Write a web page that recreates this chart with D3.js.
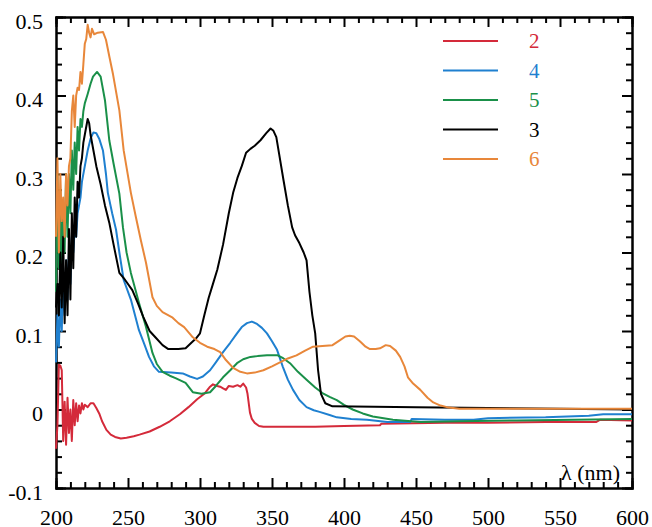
<!DOCTYPE html>
<meta charset="utf-8">
<title>Absorption spectra</title>
<style>
  body { margin: 0; background: #fff; }
  svg text { font-family: "Liberation Serif", "Times New Roman", Times, "DejaVu Serif", serif !important; }
  .axis path, .axis line { stroke: #000; stroke-width: 2; }
  .axis text { font-size: 22px; fill: #000; }
  path.spectrum { fill: none; stroke-width: 2; stroke-linejoin: round; }
  .legend text { font-size: 21px; }
</style>
<body>
<script src="https://cdn.jsdelivr.net/npm/d3@7"></script>
<script>
var serif = "Liberation Serif, Times New Roman, serif";

var xTicks = [200, 250, 300, 350, 400, 450, 500, 550, 600];
var yTicks = [-0.1, 0, 0.1, 0.2, 0.3, 0.4, 0.5];
var yTickLabels = ["-0.1", "0", "0.1", "0.2", "0.3", "0.4", "0.5"];

var legendNames = ["2", "4", "5", "3", "6"];
var legendColors = ["#d42a3a", "#1f80d0", "#1a9049", "#000000", "#e8873a"];

// [wavelength nm, absorbance]
var spectrum2 = [[200,-0.05],[201,-0.02],[202,0.057],[203,0.056],[204,0.05],[205,-0.04],[206,0.01],[207,-0.045],
  [208,0.015],[209,-0.03],[210,0.0],[211,-0.04],[212,0.012],[213,-0.02],[214,0.008],[215,-0.015],[216,0.005],
  [217,-0.005],[218,0.008],[219,0.0],[220,0.006],[222,0.003],[224,0.008],[226,0.008],[228,0.002],[230,-0.005],
  [232,-0.015],[235,-0.026],[238,-0.032],[241,-0.035],[245,-0.037],[249,-0.036],[254,-0.034],[258,-0.032],
  [265,-0.028],[272,-0.022],[279,-0.015],[286,-0.006],[292,0.003],[298,0.013],[303,0.02],[307,0.029],[309,0.032],
  [312,0.03],[314,0.029],[316,0.027],[318,0.025],[320,0.03],[323,0.029],[326,0.031],[328,0.029],[330,0.033],
  [332,0.028],[333,0.02],[334.7,-0.004],[336,-0.012],[338,-0.017],[341,-0.021],[344,-0.022],[380,-0.022],
  [400,-0.021],[425,-0.02],[426,-0.018],[470,-0.017],[500,-0.017],[540,-0.016],[575,-0.016],[578,-0.013],[600,-0.014]];

var spectrum4 = [[200,0.06],[201,0.12],[202,0.08],[203,0.14],[204,0.1],[205,0.17],[206,0.12],[207,0.19],[208,0.14],
  [209,0.2],[210,0.16],[211,0.22],[212,0.2],[213,0.23],[214,0.22],[215,0.25],[216,0.26],[217,0.27],[218,0.29],
  [220,0.31],[222,0.33],[224,0.345],[226,0.353],[228,0.352],[230,0.345],[232.6,0.33],[234.7,0.3],[236,0.276],
  [239,0.25],[241.7,0.229],[244,0.2],[247,0.165],[252,0.14],[257.6,0.101],[261,0.085],[264.6,0.067],[268,0.055],
  [271.5,0.048],[280,0.047],[288,0.046],[293,0.042],[298,0.039],[302,0.042],[307,0.05],[311,0.06],[316,0.073],
  [321,0.085],[325.7,0.097],[329,0.105],[332.6,0.11],[336,0.112],[339.6,0.109],[343,0.104],[346.5,0.097],
  [350,0.087],[353.5,0.076],[357.6,0.054],[361,0.038],[364.6,0.025],[369,0.012],[374,0.003],[379,-0.001],
  [383,-0.003],[390,-0.007],[395,-0.01],[405,-0.012],[416,-0.013],[430,-0.016],[446,-0.016],[447,-0.012],
  [470,-0.013],[490,-0.013],[500,-0.011],[540,-0.01],[570,-0.008],[580,-0.006],[600,-0.006]];

var spectrum5 = [[200,0.15],[201,0.3],[202,0.18],[203,0.28],[204,0.16],[205,0.26],[206,0.2],[207,0.3],[208,0.22],
  [209,0.3],[210,0.25],[211,0.33],[212,0.28],[213,0.34],[214,0.3],[215,0.36],[216,0.33],[217,0.37],[218,0.36],
  [219,0.38],[220,0.39],[222,0.402],[224,0.415],[225.7,0.424],[228.5,0.43],[231,0.424],[234,0.394],[237,0.343],
  [240,0.313],[244,0.275],[246.5,0.232],[249,0.2],[252,0.174],[257.6,0.136],[262.5,0.105],[267,0.072],[270,0.058],
  [274,0.048],[279,0.043],[283,0.04],[290,0.034],[295,0.022],[301,0.02],[307,0.022],[311,0.03],[316,0.041],
  [321,0.05],[325.7,0.059],[330,0.064],[335,0.067],[340,0.068],[346.5,0.069],[354,0.069],[358,0.065],
  [362.5,0.059],[368,0.048],[374,0.038],[380,0.028],[385,0.021],[390,0.016],[395,0.012],[400,0.006],[406,0.0],
  [413,-0.005],[420,-0.009],[434,-0.013],[453,-0.016],[480,-0.015],[520,-0.014],[560,-0.013],[600,-0.012]];

var spectrum3 = [[200,0.13],[201,0.16],[202,0.12],[203,0.2],[204,0.13],[205,0.22],[206,0.11],[207,0.19],[208,0.12],
  [209,0.23],[210,0.14],[211,0.25],[212,0.18],[213,0.27],[214,0.22],[215,0.29],[216,0.27],[217,0.31],[218,0.32],
  [219,0.34],[220,0.35],[222,0.37],[223,0.365],[224,0.35],[226,0.33],[228,0.31],[231,0.287],[234,0.26],
  [237,0.238],[240,0.21],[244,0.174],[248,0.165],[253,0.152],[257,0.135],[260.6,0.118],[265,0.1],[269,0.092],
  [274,0.082],[278,0.077],[285,0.077],[290,0.078],[294,0.085],[297,0.09],[300,0.097],[303,0.12],[306,0.142],
  [309,0.16],[312,0.178],[316,0.21],[320,0.25],[323,0.276],[326,0.295],[329,0.31],[332,0.327],[335,0.332],
  [338,0.336],[342,0.343],[346,0.352],[349,0.358],[351,0.355],[353,0.347],[355,0.325],[358,0.292],[361,0.26],
  [364,0.232],[366,0.222],[369,0.212],[372,0.2],[374,0.19],[376,0.15],[378,0.12],[380,0.097],[382,0.05],
  [384,0.02],[387,0.008],[392,0.004],[450,0.003],[500,0.002],[550,0.001],[600,0.0]];

var spectrum6 = [[200,0.22],[201,0.32],[202,0.2],[203,0.3],[204,0.24],[205,0.27],[206,0.22],[207,0.3],[208,0.26],
  [209,0.31],[210,0.32],[211,0.38],[212,0.4],[213,0.36],[214,0.4],[215,0.41],[216,0.407],[217,0.43],[218,0.415],
  [219,0.44],[220,0.466],[221,0.472],[222,0.49],[223,0.48],[224,0.474],[225,0.485],[226.5,0.478],[229,0.48],
  [232.6,0.481],[234.7,0.471],[237,0.45],[239.6,0.427],[244,0.381],[247,0.33],[252,0.276],[255.5,0.245],
  [259,0.215],[262.5,0.187],[267,0.143],[270,0.132],[274,0.124],[281,0.117],[285,0.11],[289,0.105],[295,0.092],
  [300,0.085],[305,0.08],[310,0.077],[314,0.073],[318,0.063],[323,0.053],[328,0.048],[332.6,0.046],[338,0.047],
  [344,0.05],[350,0.055],[355.5,0.06],[361,0.065],[367,0.069],[373,0.075],[378.5,0.08],[385,0.081],[392,0.082],
  [397,0.088],[401,0.093],[404,0.094],[407,0.093],[411,0.087],[415,0.08],[418,0.077],[422,0.077],[425,0.078],
  [429,0.082],[432,0.081],[436,0.075],[439,0.067],[442,0.055],[444.4,0.041],[448,0.033],[453,0.025],[458,0.015],
  [462,0.009],[467,0.005],[471.5,0.003],[480,0.001],[530,0.001],[600,0.001]];

var spectra = [spectrum2, spectrum4, spectrum5, spectrum3, spectrum6];

var margin = {top: 17, right: 20, bottom: 39, left: 56},
    width = 652 - margin.left - margin.right,
    height = 527 - margin.top - margin.bottom;

var x = d3.scaleLinear().domain([200, 600]).range([0, width]);
var y = d3.scaleLinear().domain([-0.1, 0.5]).range([height, 0]);

var svg = d3.select("body").append("svg")
    .attr("width", 652)
    .attr("height", 527)
  .append("g")
    .attr("transform", "translate(" + margin.left + "," + margin.top + ")");

var xMinor = d3.range(200, 601, 10).filter(function(d) { return d % 50 !== 0; });
var yMinor = d3.range(-5, 26).map(function(d) { return d * 0.02; })
    .filter(function(d) { return Math.abs(d * 10 - Math.round(d * 10)) > 1e-6; });

function minorAxis(axis, vals) {
  return axis.tickValues(vals).tickSize(-6).tickFormat("");
}

// bottom
svg.append("g").attr("class", "axis").attr("transform", "translate(0," + height + ")")
    .call(minorAxis(d3.axisBottom(x), xMinor));
svg.append("g").attr("class", "axis").attr("transform", "translate(0," + height + ")")
    .call(d3.axisBottom(x).tickValues(xTicks).tickSize(-10).tickSizeOuter(0).tickPadding(21)
      .tickFormat(d3.format("d")));
// top
svg.append("g").attr("class", "axis")
    .call(minorAxis(d3.axisTop(x), xMinor));
svg.append("g").attr("class", "axis")
    .call(d3.axisTop(x).tickValues(xTicks).tickSize(-10).tickSizeOuter(0).tickFormat(""));
// left
svg.append("g").attr("class", "axis")
    .call(minorAxis(d3.axisLeft(y), yMinor));
svg.append("g").attr("class", "axis y-left")
    .call(d3.axisLeft(y).tickValues(yTicks).tickSize(-10).tickSizeOuter(0).tickPadding(13)
      .tickFormat(function(d, i) { return yTickLabels[i]; }));
// right
svg.append("g").attr("class", "axis").attr("transform", "translate(" + width + ",0)")
    .call(minorAxis(d3.axisRight(y), yMinor));
svg.append("g").attr("class", "axis").attr("transform", "translate(" + width + ",0)")
    .call(d3.axisRight(y).tickValues(yTicks).tickSize(-10).tickSizeOuter(0).tickFormat(""));

svg.selectAll(".axis").attr("font-family", serif);
svg.selectAll(".y-left .tick text").attr("dy", "0.5em");
svg.selectAll(".axis path.domain").attr("stroke-linecap", "square");

var line = d3.line()
    .x(function(d) { return x(d[0]); })
    .y(function(d) { return y(d[1]); });

svg.selectAll("path.spectrum")
    .data(spectra)
  .enter().append("path")
    .attr("class", "spectrum")
    .attr("stroke", function(d, i) { return legendColors[i]; })
    .attr("d", line);

var legend = svg.append("g").attr("class", "legend")
    .attr("font-family", serif)
    .attr("transform", "translate(387,24)");
legend.selectAll("line")
    .data(legendNames)
  .enter().append("line")
    .attr("x1", 0).attr("x2", 55)
    .attr("y1", function(d, i) { return i * 29.5; })
    .attr("y2", function(d, i) { return i * 29.5; })
    .attr("stroke", function(d, i) { return legendColors[i]; })
    .attr("stroke-width", 2);
legend.selectAll("text")
    .data(legendNames)
  .enter().append("text")
    .attr("x", 86)
    .attr("y", function(d, i) { return i * 29.5; })
    .attr("dy", "0.35em")
    .attr("fill", function(d, i) { return legendColors[i]; })
    .text(function(d) { return d; });

svg.append("text")
    .attr("x", 564)
    .attr("y", 463)
    .attr("text-anchor", "end")
    .attr("font-family", serif)
    .style("font-size", "22px")
    .text("λ (nm)");
</script>
</body>
